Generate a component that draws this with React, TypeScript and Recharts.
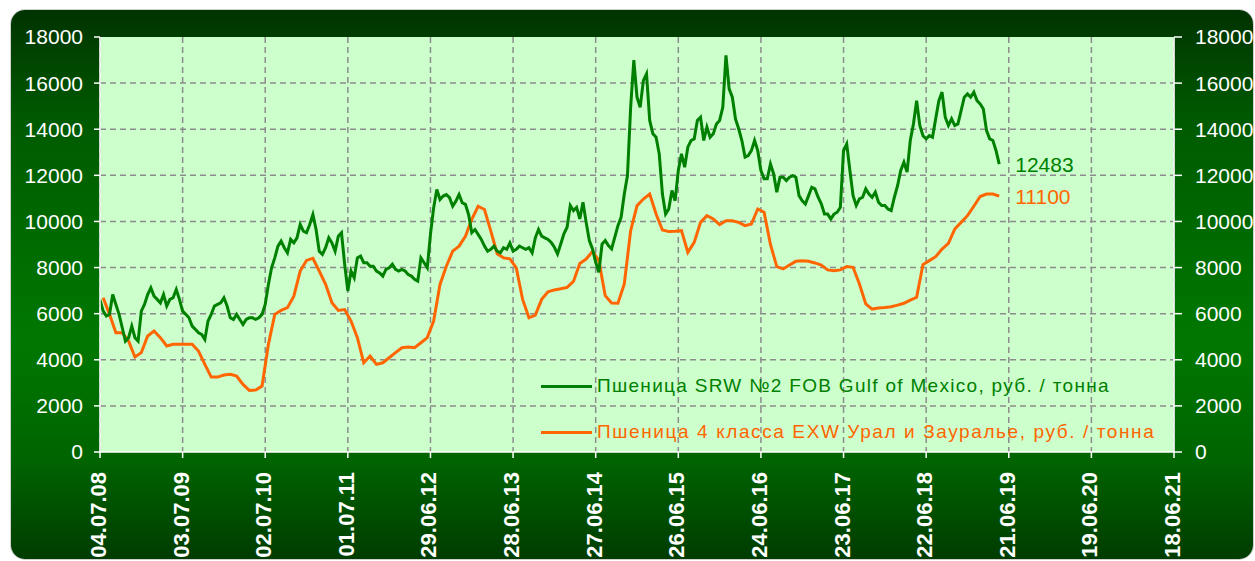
import React from 'react'
import { LineChart, Line, XAxis, YAxis, CartesianGrid, LabelList } from 'recharts'

// x axis: weeks since 04.07.08, a tick every 52 weeks
const tickWeeks = [0, 52, 104, 156, 208, 260, 312, 364, 416, 468, 520, 572, 624, 676]
const tickLabels = [
  '04.07.08', '03.07.09', '02.07.10', '01.07.11', '29.06.12', '28.06.13', '27.06.14',
  '26.06.15', '24.06.16', '23.06.17', '22.06.18', '21.06.19', '19.06.20', '18.06.21',
]
const yTicks = [0, 2000, 4000, 6000, 8000, 10000, 12000, 14000, 16000, 18000]
const gridRows = [2000, 4000, 6000, 8000, 10000, 12000, 14000, 16000]

const seriesNames = [
  'Пшеница SRW №2 FOB Gulf of Mexico, руб. / тонна',
  'Пшеница 4 класса EXW Урал и Зауралье, руб. / тонна',
]

// SRW №2 FOB Gulf of Mexico, one value every 2 weeks from week 0
const srwValues = [
  6600, 6110, 5900, 5970, 6830, 6400, 5970, 5390, 4810, 4960,
  5460, 4960, 4810, 6110, 6400, 6830, 7120, 6760, 6620, 6470,
  6830, 6330, 6620, 6690, 7050, 6620, 6110, 5970, 5820, 5460,
  5320, 5170, 5100, 4880, 5680, 5970, 6330, 6400, 6470, 6690,
  6330, 5820, 5750, 5970, 5750, 5530, 5750, 5820, 5820, 5750,
  5820, 5970, 6400, 7270, 7990, 8420, 8930, 9150, 8860, 8640,
  9220, 9070, 9290, 9870, 9580, 9510, 9870, 10300, 9650, 8710,
  8570, 8860, 9290, 9070, 8710, 9360, 9510, 8140, 6980, 7850,
  7560, 8420, 8500, 8210, 8210, 8060, 8060, 7850, 7770, 7630,
  7920, 7990, 8140, 7920, 7850, 7920, 7850, 7700, 7630, 7490,
  7410, 8420, 8210, 7990, 9440, 10590, 11390, 10950, 11100, 11170,
  11030, 10660, 10880, 11170, 10810, 10740, 10300, 9510, 9650, 9440,
  9220, 8930, 8710, 8790, 8930, 8710, 8640, 8860, 8790, 9070,
  8710, 8790, 8930, 8860, 8790, 8860, 8640, 9290, 9650, 9360,
  9290, 9220, 9090, 8880, 8590, 9020, 9460, 9750, 10690, 10470,
  10610, 10110, 10830, 9960, 9170, 8810, 8230, 7790, 9020, 9170,
  8950, 8810, 9310, 9820, 10180, 11190, 11990, 14950, 17000, 15390,
  14950, 16110, 16400, 14380, 13800, 13650, 12930, 11190, 10320, 10540,
  11340, 10900, 12210, 12930, 12350, 13220, 13510, 13580, 14380, 14520,
  13510, 14090, 13650, 13800, 14230, 14380, 14950, 17200, 15750, 15390,
  14450, 14020, 13510, 12790, 12860, 13070, 13510, 13070, 12210, 11850,
  11850, 12490, 12060, 11270, 11920, 11920, 11770, 11920, 11990, 11920,
  11120, 10900, 10760, 11120, 11480, 11410, 11050, 10760, 10320, 10320,
  10110, 10320, 10400, 10610, 13070, 13360, 12210, 11120, 10690, 10980,
  11050, 11410, 11190, 11050, 11270, 10830, 10690, 10690, 10540, 10470,
  11050, 11550, 12210, 12570, 12140, 13510, 14230, 15240, 14160, 13720,
  13580, 13720, 13650, 14450, 15240, 15610, 14520, 14160, 14450, 14160,
  14230, 14810, 15390, 15530, 15390, 15610, 15240, 15100, 14880, 13940,
  13580, 13510, 13070, 12483,
]

// 4 класса EXW Урал и Зауралье, one value every 4 weeks from week 2
const uralValues = [
  6690, 5970, 5170, 5170, 4810, 4120, 4310, 5030, 5250, 4960,
  4600, 4670, 4670, 4670, 4670, 4380, 3800, 3250, 3250, 3340,
  3370, 3290, 2930, 2670, 2690, 2860, 4670, 5970, 6140, 6260,
  6760, 7850, 8310, 8400, 7850, 7270, 6470, 6140, 6180, 5680,
  4960, 3870, 4160, 3800, 3870, 4090, 4310, 4520, 4550, 4520,
  4740, 4960, 5680, 7270, 8060, 8710, 8930, 9360, 10090, 10660,
  10520, 9580, 8600, 8420, 8380, 7990, 6620, 5820, 5940, 6620,
  6950, 7030, 7080, 7140, 7400, 8180, 8370, 8700, 8300, 6780,
  6460, 6450, 7290, 9600, 10680, 10970, 11190, 10320, 9630, 9560,
  9570, 9600, 8660, 9090, 9960, 10250, 10110, 9860, 10030, 10030,
  9960, 9820, 9890, 10540, 10400, 9000, 8040, 7940, 8110, 8270,
  8300, 8270, 8200, 8110, 7900, 7860, 7900, 8040, 8010, 7290,
  6420, 6200, 6250, 6270, 6300, 6370, 6450, 6590, 6710, 8130,
  8300, 8470, 8800, 9050, 9670, 9960, 10250, 10660, 11080, 11190,
  11190, 11100,
]

const srwData = srwValues.map((v, i) => ({ w: i * 2, v }))
const uralData = uralValues.map((v, i) => ({ w: 2 + i * 4, v }))

const GREEN = '#008000'
const ORANGE = '#ff6600'
const FONT = 'Arial, "Liberation Sans", sans-serif'

const DateTick = (props: any) => {
  const { x, y, payload } = props
  const label = tickLabels[tickWeeks.indexOf(payload.value)]
  return (
    <text
      transform={`translate(${x},${y + 12}) rotate(-90)`}
      textAnchor="end"
      dy={6}
      fill="#ffffff"
      fontSize={22}
      fontWeight="bold"
      fontFamily={FONT}
    >
      {label}
    </text>
  )
}

const lastLabel = (count: number, color: string) => (props: any) => {
  const { x, y, value, index } = props
  if (index !== count - 1) return null
  return (
    <text x={x + 16} y={y + 8} fill={color} fontSize={21} fontFamily={FONT}>
      {value}
    </text>
  )
}

const LegendRow = ({ top, color, text, spacing }: { top: number; color: string; text: string; spacing: number }) => (
  <div style={{ position: 'absolute', left: 541, top, height: 22, display: 'flex', alignItems: 'center' }}>
    <div style={{ width: 51, height: 3, background: color, marginRight: 5 }} />
    <span style={{ color, fontSize: 19, fontFamily: FONT, whiteSpace: 'nowrap', letterSpacing: spacing }}>{text}</span>
  </div>
)

const App = () => {
  return (
    <div style={{ position: 'absolute', left: 0, top: 0, width: 1255, height: 561, background: '#ffffff' }}>
      <div
        style={{
          position: 'absolute',
          left: 11,
          top: 10,
          width: 1242,
          height: 549,
          borderRadius: 14,
          boxShadow: '0 0 0 1px #d0d0d0',
          background: 'linear-gradient(180deg, #003300 0%, #005a00 20%, #007800 60%, #006400 82%, #003c00 100%)',
        }}
      />
      <div style={{ position: 'absolute', left: 0, top: 0 }}>
        <LineChart width={1255} height={561} margin={{ top: 37, right: 0, left: 0, bottom: 0 }}>
          <CartesianGrid
            stroke="#8c8c8c"
            strokeWidth={1.5}
            strokeDasharray="6 4"
            fill="#ccffcc"
            fillOpacity={1}
            yAxisId="l"
            horizontalValues={gridRows}
          />
          <XAxis
            type="number"
            dataKey="w"
            domain={[0, 676]}
            ticks={tickWeeks}
            tick={<DateTick />}
            height={109}
            interval={0}
            allowDuplicatedCategory={false}
            stroke="#ffffff"
            strokeWidth={1.5}
            tickSize={6}
          />
          <YAxis
            yAxisId="l"
            domain={[0, 18000]}
            ticks={yTicks}
            width={100}
            interval={0}
            stroke="#ffffff"
            strokeWidth={1.5}
            tickSize={6}
            tickMargin={11}
            tick={{ fill: '#ffffff', fontSize: 21, fontFamily: FONT }}
          />
          <YAxis
            yAxisId="r"
            orientation="right"
            domain={[0, 18000]}
            ticks={yTicks}
            width={81}
            interval={0}
            stroke="#ffffff"
            strokeWidth={1.5}
            tickSize={8}
            tickMargin={13}
            tick={{ fill: '#ffffff', fontSize: 21, fontFamily: FONT, textAnchor: 'start' }}
          />
          <Line
            yAxisId="r"
            data={uralData}
            dataKey="v"
            type="linear"
            stroke={ORANGE}
            strokeWidth={3}
            dot={false}
            isAnimationActive={false}
          >
            <LabelList dataKey="v" content={lastLabel(uralData.length, ORANGE)} />
          </Line>
          <Line
            yAxisId="l"
            data={srwData}
            dataKey="v"
            type="linear"
            stroke={GREEN}
            strokeWidth={3}
            dot={false}
            isAnimationActive={false}
          >
            <LabelList dataKey="v" content={lastLabel(srwData.length, GREEN)} />
          </Line>
        </LineChart>
      </div>
      <LegendRow top={375} color={GREEN} text={seriesNames[0]} spacing={1.3} />
      <LegendRow top={421} color={ORANGE} text={seriesNames[1]} spacing={1.6} />
    </div>
  )
}

export default App
